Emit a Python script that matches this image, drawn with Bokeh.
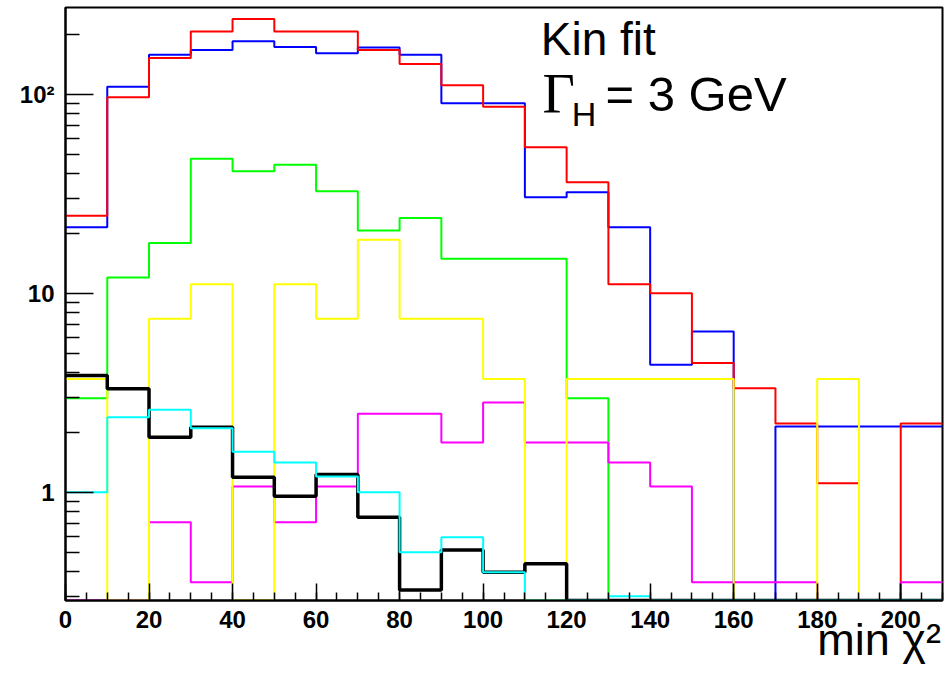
from bokeh.plotting import figure
from bokeh.models import Range1d, FixedTicker, Label
from bokeh.embed import file_html
from bokeh.resources import INLINE

# bin edges of min chi2 (width 10)
edges = list(range(0, 211, 10))

red = [24.5, 96.6, 152, 207, 239, 207, 207, 167, 142, 111, 86.7, 54.2, 36.1,
       11.1, 10.0, 4.47, 3.33, 2.22, 1.11, 0, 2.22]
blue = [21.5, 109, 158, 167, 185, 173, 161, 172, 158, 90.1, 90.1, 30.4, 32.2,
        21.5, 4.37, 6.42, 0, 2.14, 2.14, 2.14, 2.14]
green = [2.97, 12.0, 17.9, 47.5, 41.0, 44.2, 32.6, 20.7, 23.9, 14.9, 14.9, 14.9,
         2.97, 0, 0, 0, 0, 0, 0, 0, 0]
yellow = [3.71, 0, 7.44, 11.1, 0, 11.1, 7.44, 18.6, 7.44, 7.44, 3.71, 0, 3.71,
          3.71, 3.71, 3.71, 0, 0, 3.71, 0, 0]
magenta = [0, 0, 0.707, 0.353, 1.07, 0.707, 1.07, 2.48, 2.48, 1.78, 2.83, 1.78,
           1.78, 1.41, 1.07, 0.353, 0.353, 0.353, 0, 0, 0.353]
black = [3.86, 3.31, 1.89, 2.12, 1.19, 0.955, 1.23, 0.749, 0.323, 0.513, 0.396,
         0.437, 0, 0, 0, 0, 0, 0, 0, 0, 0]
cyan = [1.0, 2.38, 2.60, 2.10, 1.60, 1.41, 1.20, 1.0, 0.50, 0.594, 0.396, 0, 0,
        0.30, 0, 0, 0, 0, 0, 0, 0]

x_major = list(range(0, 201, 20))
y_major = [1, 10, 100]
y_labels = {1: "1", 10: "10", 100: "10\u00b2"}
x_title = "min \u03c7\u00b2"

YMIN, YMAX = 0.286, 273.0

p = figure(width=945, height=672, x_range=Range1d(0, 210),
           y_range=Range1d(YMIN, YMAX), y_axis_type="log",
           output_backend="svg", toolbar_location=None,
           min_border_left=65, min_border_right=3, min_border_top=7,
           min_border_bottom=72)
p.xgrid.visible = False
p.ygrid.visible = False
p.outline_line_color = "black"
p.outline_line_width = 2
p.background_fill_color = "white"
p.border_fill_color = "white"

series = [(blue, "#0000FF", 2), (red, "#FF0000", 2), (green, "#00FF00", 2),
          (magenta, "#FF00FF", 2), (yellow, "#FFFF00", 2), (black, "black", 3.5),
          (cyan, "#00FFFF", 2)]
for vals, col, lw in series:
    ys = [max(v, YMIN) for v in vals]
    p.step(x=edges, y=ys + [ys[-1]], mode="after", line_color=col, line_width=lw)

# axes
minor_y = []
for dec in [0.1, 1, 10, 100]:
    for m in range(2, 10):
        v = m * dec
        if YMIN <= v <= YMAX:
            minor_y.append(v)
p.xaxis.ticker = FixedTicker(ticks=x_major, minor_ticks=list(range(0, 211, 5)))
p.yaxis.ticker = FixedTicker(ticks=y_major, minor_ticks=minor_y)
p.yaxis.major_label_overrides = y_labels

for ax in (p.xaxis, p.yaxis):
    ax.axis_line_color = "black"
    ax.axis_line_width = 2
    ax.major_tick_out = 0
    ax.minor_tick_out = 0
    ax.major_tick_line_color = "black"
    ax.minor_tick_line_color = "black"
    ax.major_tick_line_width = 1.5
    ax.minor_tick_line_width = 1.5
    ax.major_label_text_font = "Liberation Sans"
    ax.major_label_text_font_style = "bold"
    ax.major_label_text_font_size = "24px"
    ax.major_label_text_color = "black"
p.xaxis.major_tick_in = 17
p.xaxis.minor_tick_in = 8
p.yaxis.major_tick_in = 28
p.yaxis.minor_tick_in = 14
p.xaxis.major_label_standoff = 10
p.yaxis.major_label_standoff = 11

# axis title pushed to the right end of the axis: the centred label is
# padded on its left with no-break spaces
p.xaxis.axis_label = "\u00a0" * 60 + x_title
p.xaxis.axis_label_align = "center"
p.xaxis.axis_label_standoff = -17
p.xaxis.axis_label_text_font = "Liberation Sans"
p.xaxis.axis_label_text_font_style = "normal"
p.xaxis.axis_label_text_font_size = "45px"
p.xaxis.axis_label_text_color = "black"

# texts
def lab(x, y, t, size, font="Liberation Sans", style="normal"):
    p.add_layout(Label(x=x, y=y, text=t, text_font=font, text_font_size=size,
                       text_font_style=style, text_color="black",
                       text_baseline="alphabetic", text_align="left"))

lab(113.8, 190.5, "Kin fit", "46px")
lab(114.2, 100.8, "\u0393", "56px", font="Liberation Serif")
lab(121.2, 80.0, "H", "34px")
lab(129.3, 100.0, "= 3 GeV", "49px")

open("out.html", "w").write(file_html(p, INLINE))
